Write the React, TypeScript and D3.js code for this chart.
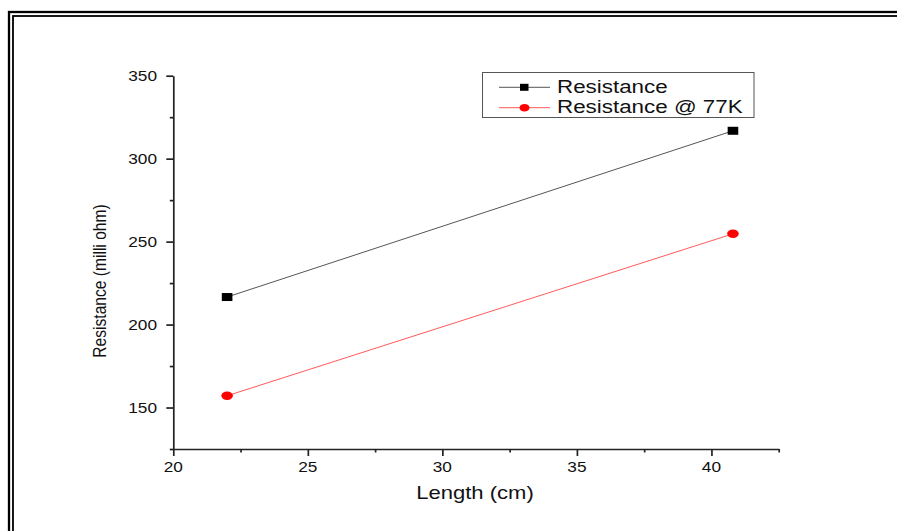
import * as d3 from "d3";
import { useEffect, useRef } from "react";

// data
const lengths = [22, 40.8];
const resistance = [216.6, 316.8];
const resistance77 = [157.1, 254.7];
const xTicks = [20, 25, 30, 35, 40];
const xMinor = [22.5, 27.5, 32.5, 37.5, 42.5];
const yTicks = [150, 200, 250, 300, 350];
const yMinor = [125, 175, 225, 275, 325];
const seriesNames = ["Resistance", "Resistance @ 77K"];

const W = 897;
const H = 531;
const FONT = "'Liberation Sans', Arial, sans-serif";

const App = () => {
  const ref = useRef<SVGSVGElement | null>(null);

  useEffect(() => {
    const svg = d3.select(ref.current);
    svg.selectAll("*").remove();

    const x = d3.scaleLinear().domain([20, 42.5]).range([173.3, 778.7]);
    const y = d3.scaleLinear().domain([125, 350]).range([449, 75.7]);

    // double frame
    svg.append("rect").attr("x", 9).attr("y", 12).attr("width", W).attr("height", H)
      .attr("fill", "none").attr("stroke", "#000").attr("stroke-width", 2.3);
    svg.append("rect").attr("x", 13).attr("y", 16).attr("width", W).attr("height", H)
      .attr("fill", "none").attr("stroke", "#000").attr("stroke-width", 1.8);

    const axisColor = "#222";
    // x axis
    const gx = svg.append("g").attr("transform", `translate(0, ${y(125)})`);
    gx.call(d3.axisBottom(x).tickValues(xTicks).tickSizeInner(7).tickSizeOuter(0).tickFormat(() => ""));
    gx.call(g => g.select(".domain").remove());
    const gx2 = svg.append("g").attr("transform", `translate(0, ${y(125)})`);
    gx2.call(d3.axisBottom(x).tickValues(xMinor).tickSizeInner(3.5).tickSizeOuter(0).tickFormat(() => ""));
    gx2.select(".domain").attr("stroke", axisColor).attr("stroke-width", 1.7);

    // y axis
    const gy = svg.append("g").attr("transform", `translate(${x(20)}, 0)`);
    gy.call(d3.axisLeft(y).tickValues(yTicks).tickSizeInner(7).tickSizeOuter(0).tickFormat(() => ""));
    gy.call(g => g.select(".domain").remove());
    const gy2 = svg.append("g").attr("transform", `translate(${x(20)}, 0)`);
    gy2.call(d3.axisLeft(y).tickValues(yMinor).tickSizeInner(3.5).tickSizeOuter(0).tickFormat(() => ""));
    gy2.select(".domain").attr("stroke", axisColor).attr("stroke-width", 1.7);
    svg.selectAll("g .tick line").attr("stroke", axisColor).attr("stroke-width", 1.7);

    // tick labels (the source image is stretched horizontally)
    xTicks.forEach(t => {
      svg.append("text")
        .attr("transform", `translate(${x(t)}, 472) scale(1.15, 1)`)
        .attr("text-anchor", "middle").attr("font-family", FONT).attr("font-size", 15)
        .attr("fill", "#111").text(t);
    });
    yTicks.forEach(t => {
      svg.append("text")
        .attr("transform", `translate(157, ${y(t) + 5.2}) scale(1.15, 1)`)
        .attr("text-anchor", "end").attr("font-family", FONT).attr("font-size", 15)
        .attr("fill", "#111").text(t);
    });

    // axis titles
    svg.append("text")
      .attr("transform", `translate(475, 499) scale(1.26, 1)`)
      .attr("text-anchor", "middle").attr("font-family", FONT).attr("font-size", 17.5)
      .attr("fill", "#111").text("Length (cm)");
    svg.append("text")
      .attr("transform", `translate(106, 281) rotate(-90) scale(1, 1.15)`)
      .attr("text-anchor", "middle").attr("font-family", FONT).attr("font-size", 15.6)
      .attr("fill", "#111").text("Resistance (milli ohm)");

    // series
    const line = d3.line<[number, number]>().x(d => x(d[0])).y(d => y(d[1]));
    const blackPts = lengths.map((l, i) => [l, resistance[i]] as [number, number]);
    const redPts = lengths.map((l, i) => [l, resistance77[i]] as [number, number]);

    svg.append("path").attr("d", line(blackPts)).attr("fill", "none")
      .attr("stroke", "#555").attr("stroke-width", 1);
    svg.append("path").attr("d", line(redPts)).attr("fill", "none")
      .attr("stroke", "#ff5a5a").attr("stroke-width", 1);

    svg.selectAll(".sq").data(blackPts).enter().append("rect")
      .attr("x", d => x(d[0]) - 5.3).attr("y", d => y(d[1]) - 4)
      .attr("width", 10.6).attr("height", 8).attr("fill", "#000");
    svg.selectAll(".dot").data(redPts).enter().append("ellipse")
      .attr("cx", d => x(d[0])).attr("cy", d => y(d[1]))
      .attr("rx", 5.8).attr("ry", 4.2).attr("fill", "#ff0000");

    // legend
    svg.append("rect").attr("x", 482.5).attr("y", 72.5).attr("width", 271.5).attr("height", 45)
      .attr("fill", "#fff").attr("stroke", "#555").attr("stroke-width", 1);
    const rows = [87.3, 107.7];
    rows.forEach((ry, i) => {
      svg.append("line").attr("x1", 499).attr("x2", 550).attr("y1", ry).attr("y2", ry)
        .attr("stroke", i === 0 ? "#555" : "#ff5a5a").attr("stroke-width", 1);
      if (i === 0) {
        svg.append("rect").attr("x", 520).attr("y", ry - 3.5).attr("width", 8.5).attr("height", 7).attr("fill", "#000");
      } else {
        svg.append("ellipse").attr("cx", 524.5).attr("cy", ry).attr("rx", 5).attr("ry", 3.8).attr("fill", "#ff0000");
      }
      svg.append("text")
        .attr("transform", `translate(557, ${ry + 5.6}) scale(1.28, 1)`)
        .attr("font-family", FONT).attr("font-size", 17.5).attr("fill", "#111")
        .text(seriesNames[i]);
    });
  }, []);

  return (
    <svg ref={ref} width={W} height={H}
      style={{ position: "absolute", left: 0, top: 0, background: "#fff" }} />
  );
};

export default App;
